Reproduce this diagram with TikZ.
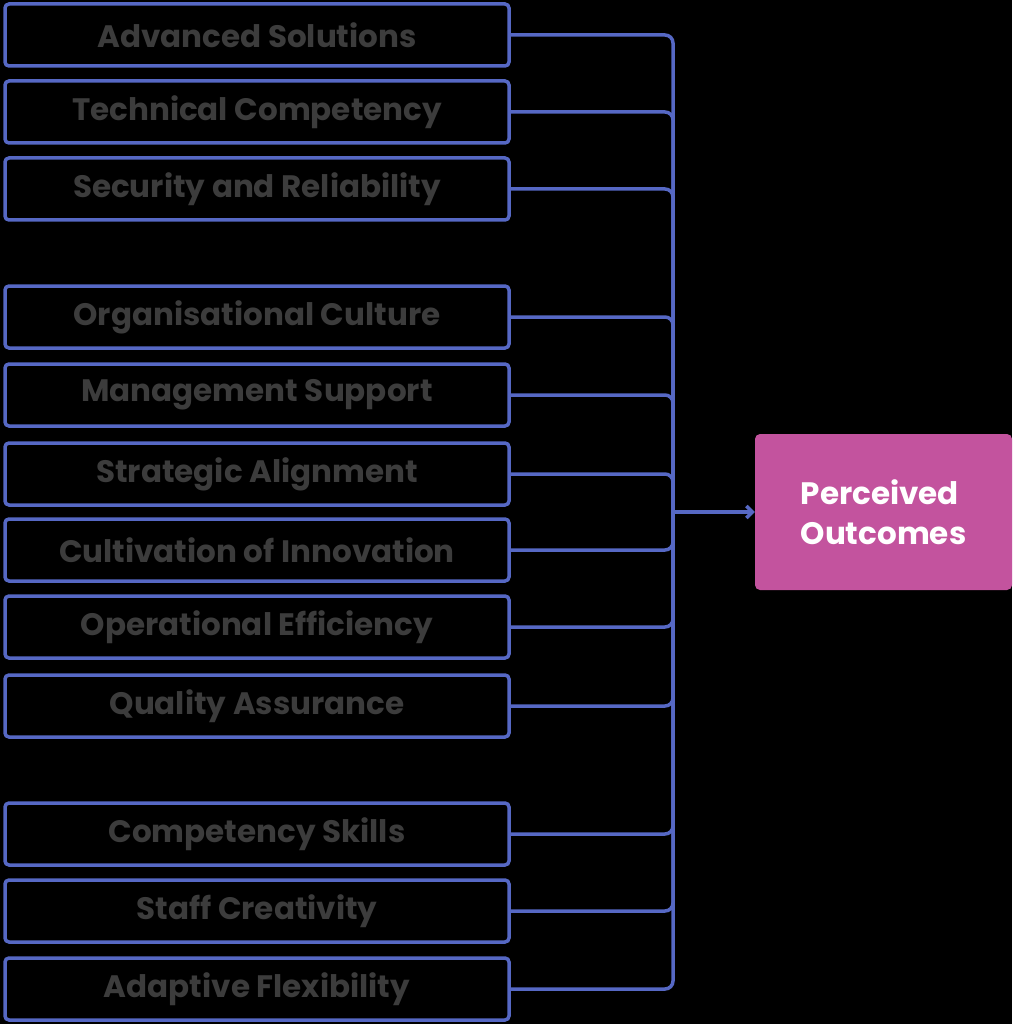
\documentclass[tikz,border=0pt]{standalone}
\usepackage{fontspec}
\setmainfont{Poppins}
\usetikzlibrary{arrows.meta}
\definecolor{lineblue}{RGB}{86,104,196}
\definecolor{outpink}{RGB}{195,83,158}
\definecolor{txtgray}{RGB}{60,60,60}

\begin{document}
\begin{tikzpicture}[x=1pt,y=-1pt,
	factor/.style={draw=lineblue, line width=3.5pt, rounded corners=4pt,
		minimum width=504pt, minimum height=62pt, inner sep=0pt,
		text=txtgray, font=\fontsize{31}{36}\selectfont\bfseries},
	outcome/.style={fill=outpink, rounded corners=5pt, minimum width=257pt,
		minimum height=156pt, text=white, align=left,
		font=\fontsize{31}{40}\selectfont\bfseries},
	link/.style={draw=lineblue, line width=3.5pt, rounded corners=8pt}]
		\fill[black] (0,0) rectangle (1012,1024);
		
		\node[factor] (f1)  at (257,35)  {Advanced Solutions};
		\node[factor] (f2)  at (257,112) {Technical Competency};
		\node[factor] (f3)  at (257,189) {Security and Reliability};
		
		\node[factor] (f4)  at (257,317) {Organisational Culture};
		\node[factor] (f5)  at (257,395) {Management Support};
		\node[factor] (f6)  at (257,474) {Strategic Alignment};
		\node[factor] (f7)  at (257,550) {Cultivation of Innovation};
		\node[factor] (f8)  at (257,627) {Operational Efficiency};
		\node[factor] (f9)  at (257,706) {Quality Assurance};
		
		\node[factor] (f10) at (257,834) {Competency Skills};
		\node[factor] (f11) at (257,911) {Staff Creativity};
		\node[factor] (f12) at (257,989) {Adaptive Flexibility};
		
		\node[outcome] (out) at (883.5,512) {Perceived\\Outcomes};
		\coordinate (hub) at (673,512);
		
		\foreach \f in {f1,f2,f3,f4,f5,f6,f7,f8,f9,f10,f11,f12}
			\draw[link] (\f.east) -| (hub);
		\draw[link, -{Straight Barb[length=6pt,width=12pt]}] (hub) -- (out.west);
\end{tikzpicture}
\end{document}
